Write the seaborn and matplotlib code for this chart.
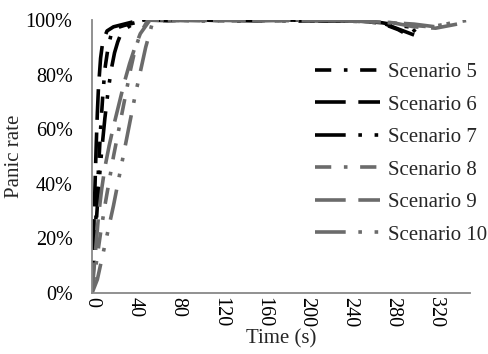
import matplotlib
matplotlib.use("Agg")
import matplotlib.pyplot as plt
import seaborn as sns
import pandas as pd
import numpy as np

# ---- data (time in s, panic rate in fraction) ----
s5_t = [0, 2, 4, 6, 8, 10, 12, 15, 18, 22, 30, 40, 50, 70, 100, 130, 160, 190, 220, 250, 265, 275, 285, 292, 298, 305]
s5_v = [0, .15, .30, .45, .60, .72, .82, .90, .95, .97, .98, .99, 1.0, .998, 1.0, .997, 1.0, .996, .998, .995, .99, .98, .965, .95, .97, .94]
s6_t = [0, 1, 2, 3, 4, 5, 6, 8, 10, 14, 20, 30, 45, 70, 100, 130, 160, 190, 220, 250, 270, 285, 295]
s6_v = [0, .12, .28, .42, .55, .66, .75, .86, .92, .96, .975, .985, 1.0, .998, 1.0, .998, .997, 1.0, .997, .996, .99, .98, .975]
s7_t = [0, 3, 6, 9, 12, 15, 18, 21, 24, 27, 32, 40, 48, 70, 100, 130, 160, 190, 220, 250, 270, 280, 290, 300, 310]
s7_v = [0, .20, .38, .52, .64, .74, .82, .88, .92, .95, .97, .99, 1.0, 1.0, .997, 1.0, .998, 1.0, .996, .995, .99, .975, .96, .945, .965]
s8_t = [0, 4, 8, 12, 16, 20, 24, 28, 32, 36, 40, 45, 52, 70, 100, 130, 160, 190, 220, 250, 280, 300, 315, 330]
s8_v = [0, .11, .22, .32, .41, .50, .58, .66, .74, .82, .89, .95, 1.0, 1.0, .998, 1.0, .997, 1.0, .998, .996, .99, .98, .975, .985]
s9_t = [0, 3, 6, 9, 12, 16, 20, 25, 30, 35, 40, 45, 54, 70, 100, 130, 160, 190, 220, 250, 280, 300, 320, 340]
s9_v = [0, .14, .28, .38, .46, .54, .61, .69, .77, .84, .90, .95, 1.0, .998, 1.0, .998, 1.0, .997, 1.0, .995, .99, .975, .97, .985]
s10_t = [0, 5, 10, 15, 20, 25, 30, 35, 40, 45, 50, 57, 70, 100, 130, 160, 190, 220, 250, 280, 300, 320, 335, 352]
s10_v = [0, .05, .14, .23, .32, .42, .52, .62, .72, .81, .90, 1.0, 1.0, .998, 1.0, .997, 1.0, .998, .996, .99, .985, .975, .99, 1.0]

labels = ["Scenario 5", "Scenario 6", "Scenario 7", "Scenario 8", "Scenario 9", "Scenario 10"]
times = [s5_t, s6_t, s7_t, s8_t, s9_t, s10_t]
vals = [s5_v, s6_v, s7_v, s8_v, s9_v, s10_v]

frames = []
for lab, t, v in zip(labels, times, vals):
    frames.append(pd.DataFrame({"Time": t, "Panic": v, "Scenario": lab}))
df = pd.concat(frames, ignore_index=True)

sns.set_theme(style="white")
plt.rcParams["font.family"] = ["Liberation Serif", "DejaVu Serif"]

fig = plt.figure(figsize=(4.88, 3.54), dpi=100)
ax = fig.add_axes([0.1885, 0.172, 0.7745, 0.7715])

black = "#000000"
gray = "#6b6b6b"
colors = [black, black, black, gray, gray, gray]
dashes = [(4.5, 3.5, 1, 3.5), (8.5, 3.5), (8.5, 3.5, 1, 3.5, 1, 3.5),
          (4.5, 3.5, 1, 3.5), (8.5, 3.5), (8.5, 3.5, 1, 3.5, 1, 3.5)]

palette = dict(zip(labels, colors))
sns.lineplot(data=df, x="Time", y="Panic", hue="Scenario", style="Scenario",
             palette=palette, dashes=dict(zip(labels, dashes)),
             hue_order=labels, style_order=labels,
             linewidth=2.6, ax=ax, estimator=None, sort=False, legend=True)

ax.set_xlim(0, 352)
ax.set_ylim(0, 1.0)
ax.set_yticks([0, .2, .4, .6, .8, 1.0])
ax.set_yticklabels(["0%", "20%", "40%", "60%", "80%", "100%"])
ax.set_xticks(np.arange(0, 321, 40))
ax.set_xticks(np.arange(0, 351, 10), minor=True)
ax.set_xticklabels([str(v) for v in range(0, 321, 40)], rotation=270)
ax.tick_params(axis="both", which="both", direction="in", labelsize=14.5,
               colors="#888888", labelcolor="black", length=5, width=1)
ax.tick_params(axis="y", length=5, pad=14)
ax.tick_params(axis="x", which="both", length=4, pad=3)

for side in ["top", "right"]:
    ax.spines[side].set_visible(False)
for side in ["left", "bottom"]:
    ax.spines[side].set_color("#888888")
    ax.spines[side].set_linewidth(1.3)

ax.set_xlabel("Time (s)", fontsize=15, labelpad=1)
ax.set_ylabel("Panic rate", fontsize=15, labelpad=1)

handles, labs = ax.get_legend_handles_labels()
leg = ax.legend(handles, labs, loc="center left", frameon=False, fontsize=15,
                handlelength=3.1, handletextpad=0.4, labelspacing=0.62,
                borderpad=0.4, bbox_to_anchor=(0.608, 0.566),
                bbox_transform=fig.transFigure)

fig.savefig("out.png", dpi=100)
